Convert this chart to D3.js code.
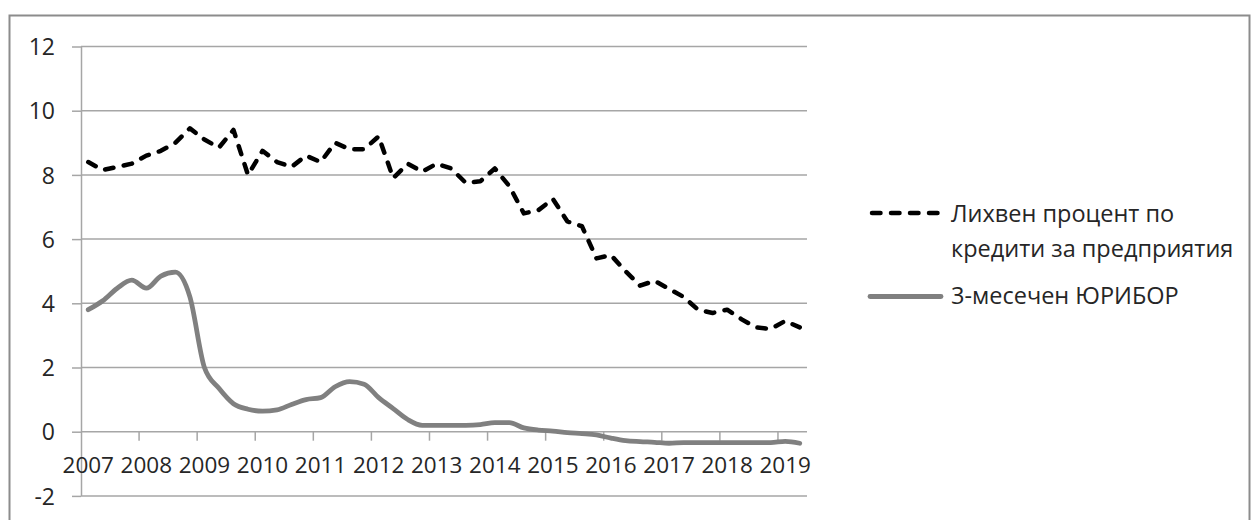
<!DOCTYPE html>
<html>
<head>
<meta charset="utf-8">
<script src="https://cdn.jsdelivr.net/npm/d3@7"></script>
<style>
  html, body { margin: 0; padding: 0; background: #fff; }
  svg text { font-family: "Open Sans", "Noto Sans", sans-serif; fill: #262626; }
</style>
</head>
<body>
<svg id="chart" width="1252" height="520"></svg>
<script>
// Quarterly observations, 2007 Q1 – 2019 Q2
const quarters = [
  "2007Q1","2007Q2","2007Q3","2007Q4","2008Q1","2008Q2","2008Q3","2008Q4",
  "2009Q1","2009Q2","2009Q3","2009Q4","2010Q1","2010Q2","2010Q3","2010Q4",
  "2011Q1","2011Q2","2011Q3","2011Q4","2012Q1","2012Q2","2012Q3","2012Q4",
  "2013Q1","2013Q2","2013Q3","2013Q4","2014Q1","2014Q2","2014Q3","2014Q4",
  "2015Q1","2015Q2","2015Q3","2015Q4","2016Q1","2016Q2","2016Q3","2016Q4",
  "2017Q1","2017Q2","2017Q3","2017Q4","2018Q1","2018Q2","2018Q3","2018Q4",
  "2019Q1","2019Q2"
];

// Interest rate on loans to non-financial corporations, %
const loanRate = [
  8.40, 8.15, 8.25, 8.35, 8.60, 8.75, 9.00, 9.45,
  9.10, 8.85, 9.40, 8.00, 8.75, 8.40, 8.25, 8.60,
  8.40, 9.00, 8.80, 8.80, 9.20, 7.90, 8.35, 8.10,
  8.35, 8.20, 7.75, 7.80, 8.20, 7.65, 6.80, 6.90,
  7.25, 6.55, 6.40, 5.40, 5.50, 5.00, 4.55, 4.70,
  4.45, 4.20, 3.80, 3.70, 3.80, 3.50, 3.25, 3.20,
  3.45, 3.25
];

// 3-month EURIBOR, %
const euribor3m = [
  3.80, 4.08, 4.47, 4.72, 4.47, 4.85, 4.97, 4.20,
  2.00, 1.35, 0.87, 0.70, 0.64, 0.68, 0.85, 1.00,
  1.06, 1.40, 1.56, 1.48, 1.06, 0.72, 0.38, 0.20,
  0.20, 0.20, 0.20, 0.22, 0.28, 0.28, 0.12, 0.05,
  0.02, -0.03, -0.06, -0.10, -0.20, -0.28, -0.31, -0.33,
  -0.36, -0.34, -0.34, -0.34, -0.34, -0.34, -0.34, -0.34,
  -0.30, -0.36
];

const yearLabels = ["2007","2008","2009","2010","2011","2012","2013",
                    "2014","2015","2016","2017","2018","2019"];
const yTicks = [-2, 0, 2, 4, 6, 8, 10, 12];

const seriesNames = ["Лихвен процент по|кредити за предприятия", "3-месечен ЮРИБОР"];

const svg = d3.select("#chart");

// Outer chart frame
svg.append("rect")
  .attr("x", 9.5).attr("y", 15.5)
  .attr("width", 1240).attr("height", 520)
  .attr("fill", "none")
  .attr("stroke", "#8c8c8c")
  .attr("stroke-width", 2);

const plot = { left: 81, right: 807, top: 46.5, bottom: 495.9 };

const x = d3.scaleBand()
  .domain(d3.range(quarters.length))
  .range([plot.left, plot.right])
  .paddingInner(0).paddingOuter(0);

const y = d3.scaleLinear()
  .domain([-2, 12])
  .range([plot.bottom, plot.top]);

const gridColor = "#a6a6a6";
const labelSize = "23px";

// Horizontal gridlines + y-axis ticks and labels
const yAxis = d3.axisLeft(y)
  .tickValues(yTicks)
  .tickSize(9)
  .tickPadding(17)
  .tickFormat(d => String(d));

const gy = svg.append("g")
  .attr("transform", `translate(${plot.left},0)`)
  .call(yAxis);
gy.select(".domain").attr("stroke", gridColor).attr("stroke-width", 1.5)
  .attr("d", `M0.5,${plot.top}V${plot.bottom}`);
gy.selectAll(".tick line").attr("stroke", gridColor).attr("stroke-width", 1.5);
gy.selectAll(".tick text")
  .style("font-size", labelSize)
  .attr("dy", "0.36em");

svg.append("g")
  .selectAll("line")
  .data(yTicks)
  .join("line")
  .attr("x1", plot.left)
  .attr("x2", plot.right)
  .attr("y1", d => y(d))
  .attr("y2", d => y(d))
  .attr("stroke", gridColor)
  .attr("stroke-width", 1.5);

// Category axis crossing at zero: tick marks every 4 quarters
const y0 = y(0);
const tickIdx = d3.range(4, quarters.length, 4);
svg.append("g")
  .selectAll("line")
  .data(tickIdx)
  .join("line")
  .attr("x1", d => x(d))
  .attr("x2", d => x(d))
  .attr("y1", y0)
  .attr("y2", y0 + 9)
  .attr("stroke", gridColor)
  .attr("stroke-width", 1.5);

// Year labels on the first quarter of each year
svg.append("g")
  .selectAll("text")
  .data(yearLabels)
  .join("text")
  .attr("x", (d, i) => x(i * 4) + x.bandwidth() / 2)
  .attr("y", y0 + 33)
  .attr("dy", "0.36em")
  .attr("text-anchor", "middle")
  .style("font-size", "22.5px")
  .text(d => d);

const cx = i => x(i) + x.bandwidth() / 2;

// 3-month EURIBOR (solid grey, smoothed)
svg.append("path")
  .datum(euribor3m)
  .attr("d", d3.line().x((d, i) => cx(i)).y(d => y(d)).curve(d3.curveMonotoneX))
  .attr("fill", "none")
  .attr("stroke", "#808080")
  .attr("stroke-width", 4.8)
  .attr("stroke-linejoin", "round")
  .attr("stroke-linecap", "round");

// Loan interest rate (black dashed)
svg.append("path")
  .datum(loanRate)
  .attr("d", d3.line().x((d, i) => cx(i)).y(d => y(d)))
  .attr("fill", "none")
  .attr("stroke", "#000")
  .attr("stroke-width", 4.5)
  .attr("stroke-dasharray", "8.5,10.5")
  .attr("stroke-linejoin", "round")
  .attr("stroke-linecap", "round");

// Legend
const legend = svg.append("g");
const legX1 = 872, legX2 = 941, textX = 951;
const legendSize = "23.5px";

legend.append("line")
  .attr("x1", legX1).attr("x2", legX2)
  .attr("y1", 213).attr("y2", 213)
  .attr("stroke", "#000")
  .attr("stroke-width", 4.5)
  .attr("stroke-dasharray", "8.5,10.5")
  .attr("stroke-linecap", "round");

const t1 = legend.append("text")
  .attr("x", textX).attr("y", 214)
  .style("font-size", legendSize);
seriesNames[0].split("|").forEach((s, k) => {
  t1.append("tspan").attr("x", textX).attr("dy", k === 0 ? "0.36em" : "1.45em").text(s);
});

legend.append("line")
  .attr("x1", legX1 - 2).attr("x2", legX2)
  .attr("y1", 296.5).attr("y2", 296.5)
  .attr("stroke", "#808080")
  .attr("stroke-width", 4.8)
  .attr("stroke-linecap", "round");

legend.append("text")
  .attr("x", textX).attr("y", 296)
  .attr("dy", "0.36em")
  .style("font-size", legendSize)
  .text(seriesNames[1]);
</script>
</body>
</html>
